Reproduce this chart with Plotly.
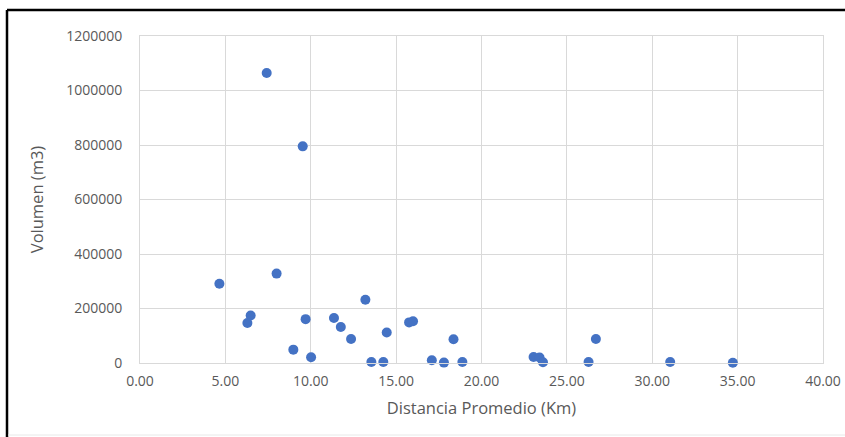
import plotly.graph_objects as go

# Average haul distance (km) and volume moved (m3)
distancia_km = [4.65, 6.29, 6.48, 7.42, 8.00, 8.98, 9.53, 9.70, 10.02, 11.36, 11.76,
                12.36, 13.20, 13.55, 14.25, 14.45, 15.76, 15.99, 17.09, 17.80, 18.36,
                18.88, 23.05, 23.40, 23.60, 26.27, 26.70, 31.05, 34.72]
volumen_m3 = [291000, 147000, 174000, 1064000, 328000, 49000, 795000, 161000, 21000,
              165000, 132000, 88000, 232000, 3500, 3500, 112000, 149000, 153000,
              10000, 1500, 87000, 3500, 22000, 20000, 3000, 3500, 88000, 3500, 1000]

x_ticks = [0, 5, 10, 15, 20, 25, 30, 35, 40]
y_ticks = [0, 200000, 400000, 600000, 800000, 1000000, 1200000]

W, H = 845, 437
L, R, T, B = 140, 22, 36, 74
pw, ph = W - L - R, H - T - B

def px_to_paper(x, y):
    return (x - L) / pw, (H - B - y) / ph

fig = go.Figure(go.Scatter(
    x=distancia_km, y=volumen_m3, mode="markers",
    marker=dict(size=10, color="#4472C4", line=dict(width=0)),
    showlegend=False, cliponaxis=False,
))

grid = "#D9D9D9"
txt = "#595959"
tick_font = dict(family="Open Sans, Liberation Sans, sans-serif", size=14, color=txt)
title_font = dict(family="Open Sans, Liberation Sans, sans-serif", size=16.5, color=txt)

fig.update_xaxes(
    range=[0, 40], tickvals=x_ticks, ticktext=[f"{v:.2f}" for v in x_ticks],
    showgrid=True, gridcolor=grid, gridwidth=1, zeroline=False,
    showline=True, linecolor=grid, linewidth=1, mirror=True,
    ticks="", tickfont=tick_font, ticklabelstandoff=5, ticklabeloverflow="allow",
    automargin=False,
    title=dict(text="Distancia Promedio (Km)", font=title_font, standoff=13),
)
fig.update_yaxes(
    range=[0, 1200000], tickvals=y_ticks, ticktext=[str(v) for v in y_ticks],
    showgrid=True, gridcolor=grid, gridwidth=1, zeroline=False,
    showline=True, linecolor=grid, linewidth=1, mirror=True,
    ticks="", tickfont=tick_font, ticklabelstandoff=14, ticklabeloverflow="allow",
    automargin=False,
    title=dict(text="Volumen (m3)", font=title_font, standoff=18),
)

# Black frame edges along the top and left of the chart
fx0, fy0 = px_to_paper(7, 10)
fx1, fy1 = px_to_paper(W + 20, H + 20)
frame = dict(color="black", width=2.5)
fig.add_shape(type="line", xref="paper", yref="paper", x0=fx0, y0=fy0, x1=fx1, y1=fy0, line=frame)
fig.add_shape(type="line", xref="paper", yref="paper", x0=fx0, y0=fy0, x1=fx0, y1=fy1, line=frame)

# Faint rule near the bottom edge
bx0, by = px_to_paper(8, 435)
fig.add_shape(type="line", xref="paper", yref="paper", x0=bx0, y0=by, x1=fx1, y1=by,
              line=dict(color="#E8E8E8", width=1))

fig.update_layout(
    width=W, height=H, margin=dict(l=L, r=R, t=T, b=B),
    paper_bgcolor="white", plot_bgcolor="white",
)

fig.write_html("out.html")
